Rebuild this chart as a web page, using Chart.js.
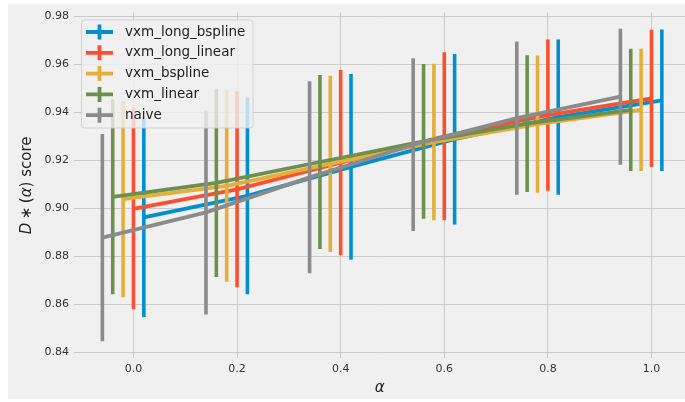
<!DOCTYPE html>
<html>
<head>
<meta charset="utf-8">
<script src="https://cdn.jsdelivr.net/npm/chart.js@4.4.1/dist/chart.umd.min.js"></script>
<style>
  html, body { margin: 0; padding: 0; background: #ffffff; overflow: hidden; }
  #wrap { width: 685px; height: 402px; position: relative; }
</style>
</head>
<body>
<div id="wrap"><canvas id="c" width="685" height="402"></canvas></div>
<script>
// ---- data ----
const alphas = [0.0, 0.2, 0.4, 0.6, 0.8, 1.0];
const seriesNames = ['vxm_long_bspline', 'vxm_long_linear', 'vxm_bspline', 'vxm_linear', 'naive'];

const meanLongBspline = [0.8962, 0.9052, 0.9173, 0.9288, 0.9380, 0.9450];
const sdLongBspline   = [0.0415, 0.0410, 0.0387, 0.0355, 0.0323, 0.0295];

const meanLongLinear  = [0.8998, 0.9079, 0.9190, 0.9300, 0.9388, 0.9458];
const sdLongLinear    = [0.0419, 0.0408, 0.0386, 0.0350, 0.0315, 0.0286];

const meanBspline     = [0.9038, 0.9094, 0.9185, 0.9276, 0.9351, 0.9410];
const sdBspline       = [0.0409, 0.0400, 0.0367, 0.0326, 0.0286, 0.0255];

const meanLinear      = [0.9048, 0.9106, 0.9193, 0.9279, 0.9353, 0.9410];
const sdLinear        = [0.0406, 0.0392, 0.0363, 0.0322, 0.0285, 0.0255];

const meanNaive       = [0.8878, 0.8983, 0.9129, 0.9265, 0.9376, 0.9465];
const sdNaive         = [0.0432, 0.0425, 0.0400, 0.0360, 0.0319, 0.0283];

const xTickValues = [0.0, 0.2, 0.4, 0.6, 0.8, 1.0];
const yTickValues = [0.84, 0.86, 0.88, 0.90, 0.92, 0.94, 0.96, 0.98];

const xAxisLabel = 'α';
// y label "D∗(α) score", split so the math parts can be set in italics
const yAxisLabelParts = [
  { text: 'D', italic: true }, { text: '∗', italic: false }, { text: '(', italic: false },
  { text: 'α', italic: true }, { text: ')', italic: false }, { text: ' score', italic: false }
];

// ---- style ----
const colors = ['#008fd5', '#fc4f30', '#e5ae38', '#6d904f', '#8b8b8b'];
const dodge  = [0.02, 0.0, -0.02, -0.04, -0.06];
const means = [meanLongBspline, meanLongLinear, meanBspline, meanLinear, meanNaive];
const sds   = [sdLongBspline, sdLongLinear, sdBspline, sdLinear, sdNaive];
const FONT = "'DejaVu Sans', sans-serif";

const datasets = seriesNames.map((name, i) => ({
  label: name,
  data: alphas.map((a, j) => ({ x: a + dodge[i], y: means[i][j] })),
  sd: sds[i],
  borderColor: colors[i],
  backgroundColor: colors[i],
  borderWidth: 3.8,
  pointRadius: 0,
  tension: 0,
  fill: false,
  borderCapStyle: 'butt',
  order: seriesNames.length - 1 - i
}));

const bgPlugin = {
  id: 'bg',
  beforeDraw(chart) {
    const ctx = chart.ctx;
    ctx.save();
    ctx.fillStyle = '#ffffff';
    ctx.fillRect(0, 0, chart.width, chart.height);
    ctx.fillStyle = '#f0f0f0';
    ctx.fillRect(8, 4, chart.width - 8, 395);
    ctx.restore();
  }
};

const errPlugin = {
  id: 'errbars',
  afterDatasetDraw(chart, args) {
    const ds = chart.data.datasets[args.index];
    const xs = chart.scales.x, ys = chart.scales.y;
    const ctx = chart.ctx;
    const ca = chart.chartArea;
    ctx.save();
    ctx.beginPath();
    ctx.rect(ca.left, ca.top, ca.right - ca.left, ca.bottom - ca.top);
    ctx.clip();
    ctx.strokeStyle = ds.borderColor;
    ctx.lineWidth = 3.6;
    ctx.lineCap = 'butt';
    ds.data.forEach((p, j) => {
      const px = xs.getPixelForValue(p.x);
      const y1 = ys.getPixelForValue(p.y + ds.sd[j]);
      const y2 = ys.getPixelForValue(p.y - ds.sd[j]);
      ctx.beginPath();
      ctx.moveTo(px, y1);
      ctx.lineTo(px, y2);
      ctx.stroke();
    });
    ctx.restore();
  }
};

const yLabelPlugin = {
  id: 'yLabel',
  afterDraw(chart) {
    const ctx = chart.ctx;
    const ca = chart.chartArea;
    const size = 15;
    const gaps = [3.5, 3.5, 0, 0, 0, 0];
    const fontOf = (p) => (p.italic ? 'italic ' : '') + size + 'px ' + FONT;
    let total = 0;
    yAxisLabelParts.forEach((p, i) => {
      ctx.font = fontOf(p);
      total += ctx.measureText(p.text).width + gaps[i];
    });
    ctx.save();
    ctx.translate(27, (ca.top + ca.bottom) / 2);
    ctx.rotate(-Math.PI / 2);
    ctx.fillStyle = '#222222';
    ctx.textBaseline = 'middle';
    ctx.textAlign = 'left';
    let x = -total / 2;
    yAxisLabelParts.forEach((p, i) => {
      ctx.font = fontOf(p);
      ctx.fillText(p.text, x, 0);
      x += ctx.measureText(p.text).width + gaps[i];
    });
    ctx.restore();
  }
};

const legendPlugin = {
  id: 'mplLegend',
  afterDraw(chart) {
    const ctx = chart.ctx;
    const bx = 81.5, by = 20, bw = 171.5, bh = 108, r = 3;
    ctx.save();
    ctx.beginPath();
    ctx.moveTo(bx + r, by);
    ctx.lineTo(bx + bw - r, by);
    ctx.quadraticCurveTo(bx + bw, by, bx + bw, by + r);
    ctx.lineTo(bx + bw, by + bh - r);
    ctx.quadraticCurveTo(bx + bw, by + bh, bx + bw - r, by + bh);
    ctx.lineTo(bx + r, by + bh);
    ctx.quadraticCurveTo(bx, by + bh, bx, by + bh - r);
    ctx.lineTo(bx, by + r);
    ctx.quadraticCurveTo(bx, by, bx + r, by);
    ctx.closePath();
    ctx.fillStyle = 'rgba(240,240,240,0.8)';
    ctx.fill();
    ctx.strokeStyle = 'rgba(204,204,204,0.8)';
    ctx.lineWidth = 1;
    ctx.stroke();
    chart.data.datasets.forEach((ds, i) => {
      const cy = 32 + i * 20.8;
      ctx.strokeStyle = ds.borderColor;
      ctx.lineWidth = 3.8;
      ctx.lineCap = 'butt';
      ctx.beginPath();
      ctx.moveTo(86, cy); ctx.lineTo(113, cy);
      ctx.moveTo(99.5, cy - 7.5); ctx.lineTo(99.5, cy + 7.5);
      ctx.stroke();
      ctx.fillStyle = '#222222';
      ctx.font = "13.5px " + FONT;
      ctx.textBaseline = 'middle';
      ctx.textAlign = 'left';
      ctx.fillText(ds.label, 125, cy);
    });
    ctx.restore();
  }
};

new Chart(document.getElementById('c'), {
  type: 'line',
  data: { datasets },
  options: {
    responsive: false,
    animation: false,
    devicePixelRatio: 1,
    layout: { padding: { left: 0, right: 0, top: 12.5, bottom: 0 } },
    plugins: { legend: { display: false }, tooltip: { enabled: false } },
    scales: {
      x: {
        type: 'linear',
        min: -0.114,
        max: 1.0647,
        afterBuildTicks: (s) => { s.ticks = xTickValues.map(v => ({ value: v })); },
        afterFit: (s) => { s.height = 43.7; },
        grid: { color: '#cbcbcb', lineWidth: 1, drawTicks: false },
        border: { display: false },
        ticks: {
          font: { family: FONT, size: 11 }, color: '#333333', padding: 4,
          callback: (v) => Number(v).toFixed(1)
        },
        title: {
          display: true, text: xAxisLabel, color: '#222222',
          font: { family: FONT, size: 15, style: 'italic' },
          padding: { top: 0, bottom: 5 }
        }
      },
      y: {
        type: 'linear',
        min: 0.8375,
        max: 0.9816,
        afterBuildTicks: (s) => { s.ticks = yTickValues.map(v => ({ value: v })); },
        afterFit: (s) => { s.width = 74.4; },
        grid: { color: '#cbcbcb', lineWidth: 1, drawTicks: false },
        border: { display: false },
        ticks: {
          font: { family: FONT, size: 11 }, color: '#333333', padding: 5.5,
          callback: (v) => Number(v).toFixed(2)
        },
        title: { display: false }
      }
    }
  },
  plugins: [bgPlugin, errPlugin, yLabelPlugin, legendPlugin]
});
</script>
</body>
</html>
